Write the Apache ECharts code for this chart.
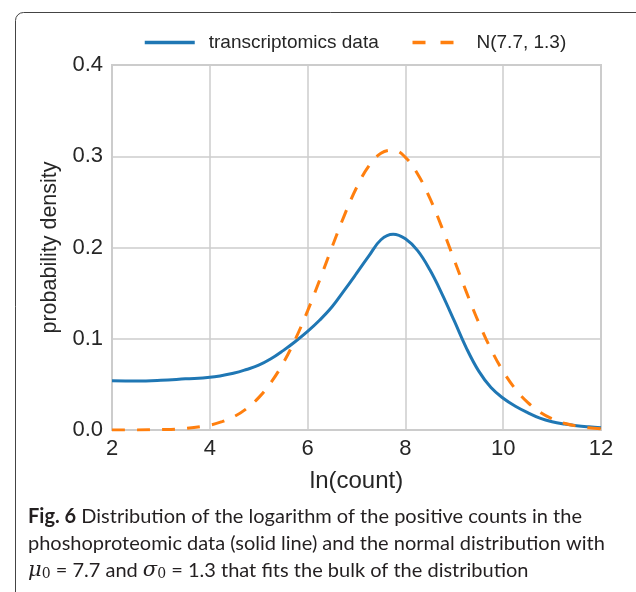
<!DOCTYPE html>
<html>
<head>
<meta charset="utf-8">
<script src="https://cdn.jsdelivr.net/npm/echarts@6/dist/echarts.min.js"></script>
<style>
html,body{margin:0;padding:0;background:#fff;}
#main{width:636px;height:592px;}
</style>
</head>
<body>
<div id="main"></div>
<script>
// ---- data ----
var kdeX = [2, 2.5, 3, 3.5, 4, 4.5, 4.75, 5, 5.25, 5.5, 5.75, 6, 6.25, 6.5, 6.75, 7, 7.25, 7.5, 7.75, 8, 8.25, 8.5, 8.75, 9, 9.25, 9.5, 9.75, 10, 10.25, 10.5, 10.75, 11, 11.25, 11.5, 11.75, 12];
var kdeY = [0.054, 0.0537, 0.0545, 0.0561, 0.0577, 0.0625, 0.0663, 0.071, 0.078, 0.087, 0.097, 0.108, 0.1205, 0.135, 0.153, 0.1716, 0.1905, 0.2085, 0.2145, 0.2095, 0.1965, 0.1755, 0.149, 0.1195, 0.0895, 0.0645, 0.0465, 0.0348, 0.026, 0.019, 0.013, 0.009, 0.0065, 0.0047, 0.0035, 0.0026];
var normX = [2, 2.5, 3, 3.5, 4, 4.25, 4.5, 4.75, 5, 5.25, 5.5, 5.75, 6, 6.25, 6.5, 6.75, 7, 7.25, 7.5, 7.75, 8, 8.25, 8.5, 8.75, 9, 9.25, 9.5, 9.75, 10, 10.25, 10.5, 10.75, 11, 11.25, 11.5, 11.75, 12];
var normY = [0.0000, 0.0001, 0.0004, 0.0017, 0.0054, 0.0091, 0.0148, 0.0234, 0.0355, 0.0520, 0.0733, 0.0996, 0.1305, 0.1648, 0.2004, 0.2350, 0.2655, 0.2891, 0.3033, 0.3068, 0.2988, 0.2806, 0.2540, 0.2215, 0.1861, 0.1508, 0.1177, 0.0885, 0.0642, 0.0448, 0.0302, 0.0196, 0.0122, 0.0074, 0.0043, 0.0024, 0.0013];
var seriesNames = ['transcriptomics data', 'N(7.7, 1.3)'];
var xTicks = [2, 4, 6, 8, 10, 12];
var yTicks = [0.0, 0.1, 0.2, 0.3, 0.4];
var xLabel = 'ln(count)';
var yLabel = 'probability density';
var captionLines = [
  '{b|Fig. 6} Distribution of the logarithm of the positive counts in the',
  'phoshoproteomic data (solid line) and the normal distribution with',
  '{it|μ}{sub|0} = 7.7 and {it|σ}{sub|0} = 1.3 that fits the bulk of the distribution'
];

function zip(xs, ys){ return xs.map(function(x,i){ return [x, ys[i]]; }); }

var tickFont = 'Liberation Sans, Arial, sans-serif';
var capFont = 'Lato, sans-serif';
var chart = echarts.init(document.getElementById('main'), null, {renderer:'canvas'});

var graphics = [{
  type:'rect', silent:true,
  shape:{x:15.5, y:12.5, width:660, height:660, r:8},
  style:{fill:'none', stroke:'#444', lineWidth:1}
}];
var capY = [519, 546, 572];
captionLines.forEach(function(t, i){
  graphics.push({
    type:'text', silent:true, left:28, top:capY[i]-12,
    style:{
      text:t, fill:'#231f20', font:'20px ' + capFont, verticalAlign:'top',
      rich:{
        b:{fontWeight:'bold', fontSize:20, fontFamily:'Lato', fill:'#231f20'},
        it:{fontStyle:'italic', fontSize:21, fontFamily:'DejaVu Serif', fill:'#231f20'},
        sub:{fontSize:14, fontFamily:'DejaVu Serif', fill:'#231f20', padding:[8,0,0,0]}
      }
    }
  });
});

chart.setOption({
  animation:false,
  backgroundColor:'#fff',
  grid:{left:112, right:35, top:65, bottom:162, show:true, borderColor:'#cccccc', borderWidth:2, backgroundColor:'transparent'},
  legend:{
    left:138, top:28, itemWidth:50, itemHeight:14, itemGap:32,
    itemStyle:{opacity:0},
    textStyle:{fontSize:19, fontFamily:tickFont, color:'#262626', padding:[0,0,0,9]},
    data:[
      {name:seriesNames[0], itemStyle:{opacity:0}, lineStyle:{color:'#1f77b4', width:3.5}},
      {name:seriesNames[1], itemStyle:{opacity:0}, lineStyle:{color:'#ff7f0e', width:3.5, type:[13,15,13,100]}}
    ]
  },
  xAxis:{
    type:'value', min:xTicks[0], max:xTicks[xTicks.length-1], interval:2,
    name:xLabel, nameLocation:'middle', nameGap:39,
    nameTextStyle:{fontSize:24, fontFamily:tickFont, color:'#262626'},
    axisLine:{show:false}, axisTick:{show:false},
    axisLabel:{fontSize:22, fontFamily:tickFont, color:'#262626', margin:8},
    splitLine:{show:true, lineStyle:{color:'#cccccc', width:1.5}}
  },
  yAxis:{
    type:'value', min:yTicks[0], max:yTicks[yTicks.length-1], interval:0.1,
    name:yLabel, nameLocation:'middle', nameGap:51,
    nameTextStyle:{fontSize:21.5, fontFamily:tickFont, color:'#262626'},
    axisLine:{show:false}, axisTick:{show:false},
    axisLabel:{fontSize:22, fontFamily:tickFont, color:'#262626', margin:9, formatter:function(v){return v.toFixed(1);}},
    splitLine:{show:true, lineStyle:{color:'#cccccc', width:1.5}}
  },
  series:[
    {name:seriesNames[0], type:'line', data:zip(kdeX,kdeY), smooth:0.4, symbol:'none', showSymbol:false,
     lineStyle:{color:'#1f77b4', width:3}, itemStyle:{color:'#1f77b4'}, z:2},
    {name:seriesNames[1], type:'line', data:zip(normX,normY), smooth:0.4, symbol:'none', showSymbol:false,
     lineStyle:{color:'#ff7f0e', width:3, type:[13,12], cap:'butt'}, itemStyle:{color:'#ff7f0e'}, z:3}
  ],
  graphic:graphics
});
</script>
</body>
</html>
